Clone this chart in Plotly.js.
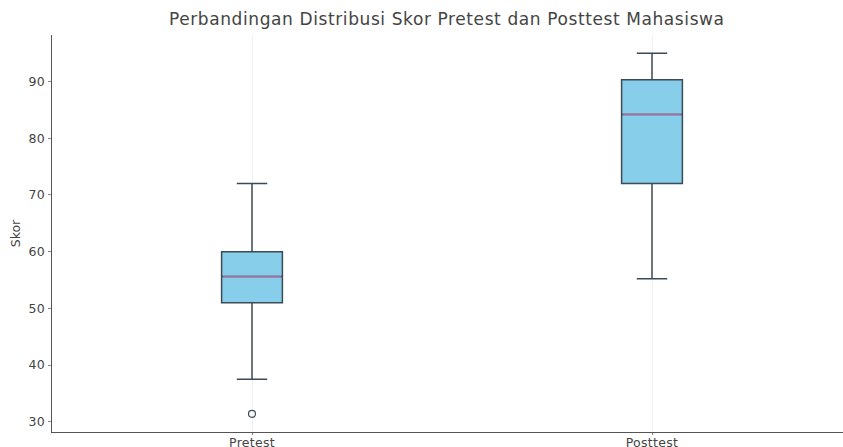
<!DOCTYPE html>
<html>
<head>
<meta charset="utf-8">
<script src="https://cdn.plot.ly/plotly-3.0.1.min.js"></script>
<style>
html,body{margin:0;padding:0;background:#fff;}
#chart{width:843px;height:447px;}
#chart .gtitle{letter-spacing:0.6px;}
#chart .xtick text{letter-spacing:0.3px;}
#chart .ytick text{letter-spacing:0.4px;}
</style>
</head>
<body>
<div id="chart"></div>
<script>
// Data
const groups = ['Pretest', 'Posttest'];
const lowerWhisker = [37.5, 55.2];
const q1Values = [51.0, 72.0];
const medianValues = [55.6, 84.2];
const q3Values = [60.0, 90.3];
const upperWhisker = [72.0, 95.0];
const outlierGroups = ['Pretest'];
const outlierValues = [31.4];

const boxTraces = groups.map((g, i) => ({
  type: 'box',
  x: [g],
  q1: [q1Values[i]],
  median: [medianValues[i]],
  q3: [q3Values[i]],
  lowerfence: [lowerWhisker[i]],
  upperfence: [upperWhisker[i]],
  width: 0.152,
  whiskerwidth: 0.5,
  fillcolor: '#87CEEB',
  line: {color: '#3d4a56', width: 1.5},
  boxpoints: false,
  hoverinfo: 'skip',
  showlegend: false
}));

const medianTraces = groups.map((g, i) => ({
  type: 'box',
  x: [g],
  q1: [medianValues[i]],
  median: [medianValues[i]],
  q3: [medianValues[i]],
  lowerfence: [medianValues[i]],
  upperfence: [medianValues[i]],
  width: 0.145,
  whiskerwidth: 0,
  fillcolor: 'rgba(0,0,0,0)',
  line: {color: '#a8709e', width: 1.6},
  boxpoints: false,
  hoverinfo: 'skip',
  showlegend: false
}));

const outlierTrace = {
  type: 'scatter',
  mode: 'markers',
  x: outlierGroups,
  y: outlierValues,
  marker: {symbol: 'circle-open', size: 7, color: '#3d4a56', line: {width: 1.2}},
  showlegend: false,
  hoverinfo: 'skip'
};

const layout = {
  width: 843,
  height: 447,
  margin: {l: 52, r: 0, t: 35, b: 15, pad: 0},
  paper_bgcolor: '#ffffff',
  plot_bgcolor: '#ffffff',
  boxmode: 'overlay',
  font: {family: 'DejaVu Sans, sans-serif', color: '#444'},
  title: {
    text: 'Perbandingan Distribusi Skor Pretest dan Posttest Mahasiswa',
    font: {size: 17, color: '#444', family: 'DejaVu Sans, sans-serif'},
    x: 0.53, xanchor: 'center', y: 0.957, yanchor: 'middle'
  },
  xaxis: {
    type: 'category',
    categoryorder: 'array',
    categoryarray: groups,
    range: [-0.5, 1.4775],
    showgrid: true,
    gridcolor: '#f0f0f0',
    gridwidth: 1,
    showline: true,
    linecolor: '#555',
    linewidth: 1.3,
    ticks: 'outside',
    ticklen: 2,
    tickcolor: '#888',
    ticklabelstandoff: -3,
    tickfont: {size: 12.5, color: '#444'},
    zeroline: false,
    fixedrange: true
  },
  yaxis: {
    range: [28.2, 98.2],
    tickvals: [30, 40, 50, 60, 70, 80, 90],
    showgrid: false,
    showline: true,
    linecolor: '#555',
    linewidth: 1.3,
    ticks: 'outside',
    ticklen: 3,
    tickcolor: '#888',
    tickfont: {size: 12.5, color: '#444'},
    zeroline: false,
    title: {text: 'Skor', font: {size: 12.5, color: '#444'}, standoff: 6},
    fixedrange: true
  }
};

Plotly.newPlot('chart', [...boxTraces, ...medianTraces, outlierTrace], layout, {displayModeBar: false, staticPlot: true});
</script>
</body>
</html>
